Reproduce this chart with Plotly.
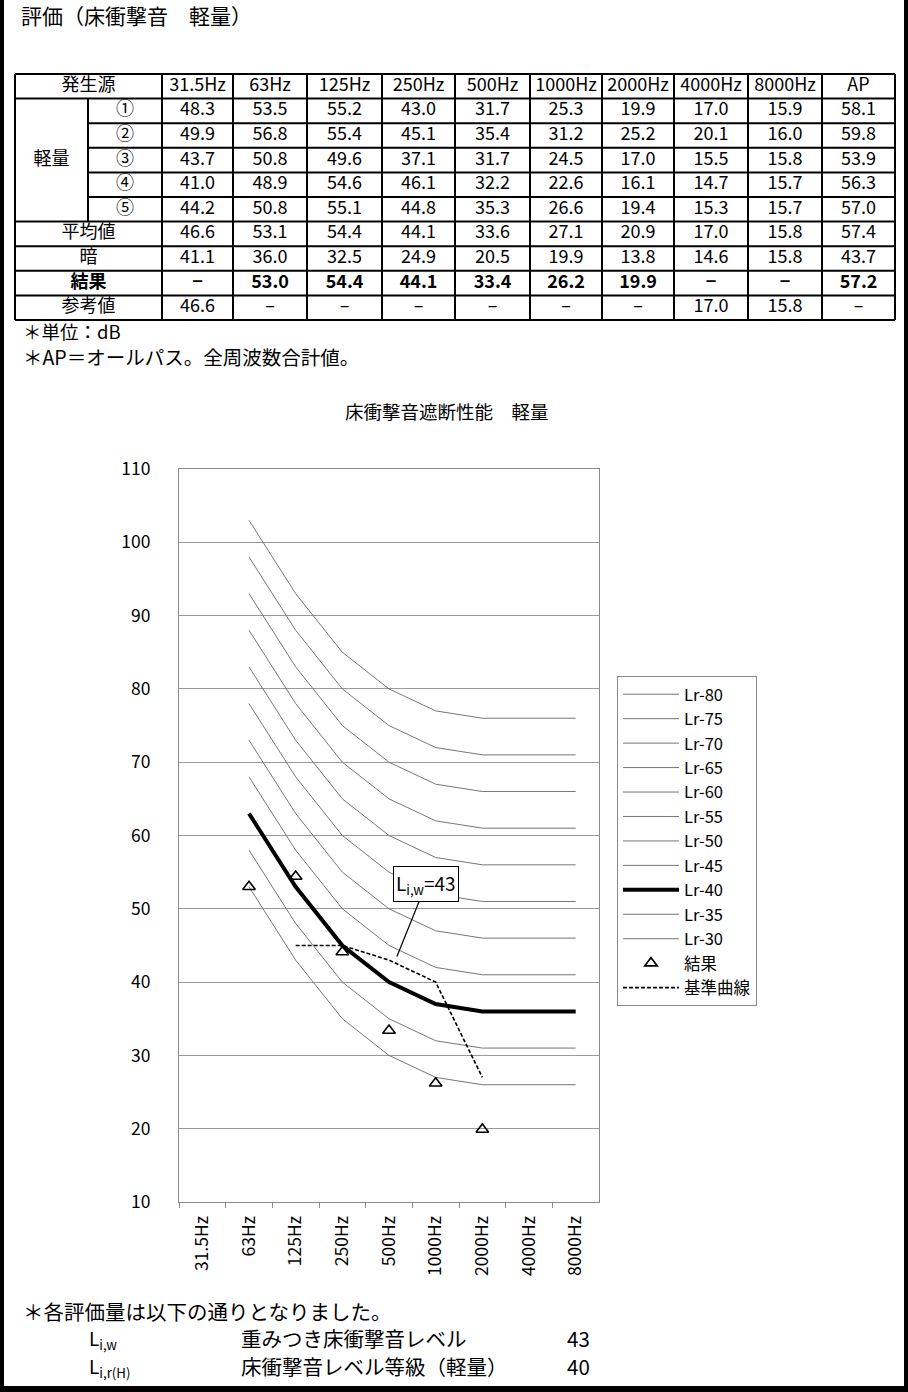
import plotly.graph_objects as go

W, H = 908, 1392
FONT = "Noto Sans CJK JP"

# ---------------- data ----------------
freq_labels = ["31.5Hz", "63Hz", "125Hz", "250Hz", "500Hz", "1000Hz", "2000Hz", "4000Hz", "8000Hz"]
table_cols = freq_labels + ["AP"]

row_labels_main = ["①", "②", "③", "④", "⑤"]
row_1 = ["48.3", "53.5", "55.2", "43.0", "31.7", "25.3", "19.9", "17.0", "15.9", "58.1"]
row_2 = ["49.9", "56.8", "55.4", "45.1", "35.4", "31.2", "25.2", "20.1", "16.0", "59.8"]
row_3 = ["43.7", "50.8", "49.6", "37.1", "31.7", "24.5", "17.0", "15.5", "15.8", "53.9"]
row_4 = ["41.0", "48.9", "54.6", "46.1", "32.2", "22.6", "16.1", "14.7", "15.7", "56.3"]
row_5 = ["44.2", "50.8", "55.1", "44.8", "35.3", "26.6", "19.4", "15.3", "15.7", "57.0"]
row_mean = ["46.6", "53.1", "54.4", "44.1", "33.6", "27.1", "20.9", "17.0", "15.8", "57.4"]
row_bg = ["41.1", "36.0", "32.5", "24.9", "20.5", "19.9", "13.8", "14.6", "15.8", "43.7"]
row_result = ["−", "53.0", "54.4", "44.1", "33.4", "26.2", "19.9", "−", "−", "57.2"]
row_refval = ["46.6", "–", "–", "–", "–", "–", "–", "17.0", "15.8", "–"]

# chart series
result_vals = [None, 53.0, 54.4, 44.1, 33.4, 26.2, 19.9, None, None]
ref_curve = [None, None, 45, 45, 43, 40, 27, None, None]

lr_names = ["Lr-80", "Lr-75", "Lr-70", "Lr-65", "Lr-60", "Lr-55", "Lr-50", "Lr-45", "Lr-40", "Lr-35", "Lr-30"]
lr_80 = [None, 103, 93, 85, 80, 77, 76, 76, 76]
lr_75 = [None, 98, 88, 80, 75, 72, 71, 71, 71]
lr_70 = [None, 93, 83, 75, 70, 67, 66, 66, 66]
lr_65 = [None, 88, 78, 70, 65, 62, 61, 61, 61]
lr_60 = [None, 83, 73, 65, 60, 57, 56, 56, 56]
lr_55 = [None, 78, 68, 60, 55, 52, 51, 51, 51]
lr_50 = [None, 73, 63, 55, 50, 47, 46, 46, 46]
lr_45 = [None, 68, 58, 50, 45, 42, 41, 41, 41]
lr_40 = [None, 63, 53, 45, 40, 37, 36, 36, 36]
lr_35 = [None, 58, 48, 40, 35, 32, 31, 31, 31]
lr_30 = [None, 53, 43, 35, 30, 27, 26, 26, 26]
lr_series = [lr_80, lr_75, lr_70, lr_65, lr_60, lr_55, lr_50, lr_45, lr_40, lr_35, lr_30]

# ---------------- figure ----------------
fig = go.Figure()

for name, vals in zip(lr_names, lr_series):
    thick = name == "Lr-40"
    fig.add_trace(go.Scatter(
        x=freq_labels, y=vals, mode="lines", name=name,
        line=dict(color="black" if thick else "#767676", width=4 if thick else 1),
        hoverinfo="skip"))

fig.add_trace(go.Scatter(
    x=freq_labels, y=result_vals, mode="markers", name="結果",
    marker=dict(symbol="triangle-up-open", size=11, color="black", line=dict(width=1.6, color="black"))))

fig.add_trace(go.Scatter(
    x=freq_labels, y=ref_curve, mode="lines", name="基準曲線",
    line=dict(color="black", width=1.6, dash="4px,2px")))

# ---------------- table (drawn on a full-page helper axis) ----------------
col_edges = [15, 88, 162, 233, 307, 382, 455, 530, 602, 674, 748, 822, 895]
row_top, row_h = 74, 24.6
row_edges = [row_top + row_h * i for i in range(11)]

tx, ty, tt = [], [], []

def add_text(x, y, t):
    tx.append(x); ty.append(y); tt.append(t)

def rc(i):
    return (row_edges[i] + row_edges[i + 1]) / 2

# header
add_text((col_edges[0] + col_edges[2]) / 2, rc(0), "発生源")
for j, lab in enumerate(table_cols):
    add_text((col_edges[j + 2] + col_edges[j + 3]) / 2, rc(0), lab)
# 軽量 block
add_text((col_edges[0] + col_edges[1]) / 2, (row_edges[1] + row_edges[6]) / 2, "軽量")
for i, (lab, vals) in enumerate(zip(row_labels_main, [row_1, row_2, row_3, row_4, row_5])):
    add_text((col_edges[1] + col_edges[2]) / 2, rc(i + 1), lab)
    for j, v in enumerate(vals):
        add_text((col_edges[j + 2] + col_edges[j + 3]) / 2, rc(i + 1), v)
# other rows
other_rows = [("平均値", row_mean, False), ("暗", row_bg, False), ("結果", row_result, True), ("参考値", row_refval, False)]
for k, (lab, vals, bold) in enumerate(other_rows):
    r = 6 + k
    add_text((col_edges[0] + col_edges[2]) / 2, rc(r), f"<b>{lab}</b>" if bold else lab)
    for j, v in enumerate(vals):
        add_text((col_edges[j + 2] + col_edges[j + 3]) / 2, rc(r), f"<b>{v}</b>" if bold else v)

fig.add_trace(go.Scatter(
    x=tx, y=ty, text=tt, mode="text", xaxis="x2", yaxis="y2",
    textposition="middle center",
    textfont=dict(family=FONT, size=18, color="black"),
    showlegend=False, hoverinfo="skip"))

shapes = []
LW = 2
def hline(x0, x1, y):
    shapes.append(dict(type="line", xref="x2", yref="y2", x0=x0, x1=x1, y0=y, y1=y,
                       line=dict(color="black", width=LW)))
def vline(x, y0, y1):
    shapes.append(dict(type="line", xref="x2", yref="y2", x0=x, x1=x, y0=y0, y1=y1,
                       line=dict(color="black", width=LW)))

for i, y in enumerate(row_edges):
    if i in (2, 3, 4, 5):
        hline(col_edges[1], col_edges[-1], y)
    else:
        hline(col_edges[0], col_edges[-1], y)
vline(col_edges[0], row_edges[0], row_edges[-1])
vline(col_edges[1], row_edges[1], row_edges[6])
for x in col_edges[2:]:
    vline(x, row_edges[0], row_edges[-1])

# page frame
shapes += [
    dict(type="rect", xref="paper", yref="paper", x0=0, x1=4 / W, y0=0, y1=1, fillcolor="black", line=dict(width=0)),
    dict(type="rect", xref="paper", yref="paper", x0=1 - 4 / W, x1=1, y0=0, y1=1, fillcolor="black", line=dict(width=0)),
    dict(type="rect", xref="paper", yref="paper", x0=0, x1=1, y0=0, y1=6 / H, fillcolor="black", line=dict(width=0)),
]

def px(x):
    return x / W

def py(y):
    return 1 - y / H

annotations = []
def text(x, y, t, size=20, xanchor="left"):
    annotations.append(dict(x=px(x), y=py(y), xref="paper", yref="paper", text=t, showarrow=False,
                            xanchor=xanchor, yanchor="middle", borderpad=0,
                            font=dict(family=FONT, size=size, color="black")))

text(20, 15, "評価（床衝撃音　軽量）", 21)
text(22, 331, "＊単位：dB", 18.5)
text(22, 356, "＊AP＝オールパス。全周波数合計値。", 19.5)
text(447, 411, "床衝撃音遮断性能　軽量", 18.5, xanchor="center")
text(22, 1311, "＊各評価量は以下の通りとなりました。", 20.5)
text(88, 1339, "L<sub>i,w</sub>", 19)
text(240, 1338, "重みつき床衝撃音レベル", 20.5)
text(566, 1338, "43", 20.5)
text(88, 1367, "L<sub>i,r(H)</sub>", 19)
text(240, 1366, "床衝撃音レベル等級（軽量）", 20.5)
text(566, 1366, "40", 20.5)

# callout
annotations.append(dict(
    x=4.17, y=43.5, xref="x", yref="y", text="L<sub>i,w</sub>=43", showarrow=True,
    arrowhead=0, arrowwidth=1.2, arrowcolor="black", ax=29, ay=-72,
    bordercolor="black", borderwidth=1, borderpad=2, bgcolor="white",
    font=dict(family=FONT, size=19, color="black")))

fig.update_layout(
    width=W, height=H, margin=dict(l=0, r=0, t=0, b=0, autoexpand=False),
    paper_bgcolor="white", plot_bgcolor="rgba(0,0,0,0)",
    font=dict(family=FONT, color="black"),
    xaxis=dict(domain=[179 / W, 599 / W], type="category", categoryorder="array", categoryarray=freq_labels,
               range=[-0.5, 8.5], showgrid=False, showline=True, linecolor="#8a8a8a", linewidth=1, mirror=True,
               ticks="outside", tickson="boundaries", ticklen=5, tickcolor="#8a8a8a", tickangle=-90,
               tickfont=dict(family=FONT, size=17.5, color="black"), zeroline=False, anchor="y",
               ticklabelstandoff=6, automargin=False),
    yaxis=dict(domain=[1 - 1202 / H, 1 - 469 / H], range=[10, 110], dtick=10, tick0=10,
               showgrid=True, gridcolor="#9a9a9a", gridwidth=1, showline=True, linecolor="#8a8a8a",
               mirror=True, ticks="", tickfont=dict(family=FONT, size=17.5, color="black"),
               zeroline=False, anchor="x", ticklabelstandoff=24, automargin=False),
    xaxis2=dict(domain=[0, 1], range=[0, W], visible=False, anchor="y2", automargin=False),
    yaxis2=dict(domain=[0, 1], range=[H, 0], visible=False, anchor="x2", automargin=False),
    legend=dict(x=px(617), y=py(676), xanchor="left", yanchor="top", bgcolor="white",
                bordercolor="#8a8a8a", borderwidth=1, font=dict(family=FONT, size=16.5, color="black"),
                itemwidth=56, tracegroupgap=0),
    shapes=shapes, annotations=annotations, showlegend=True,
)

fig.write_html("out.html")
